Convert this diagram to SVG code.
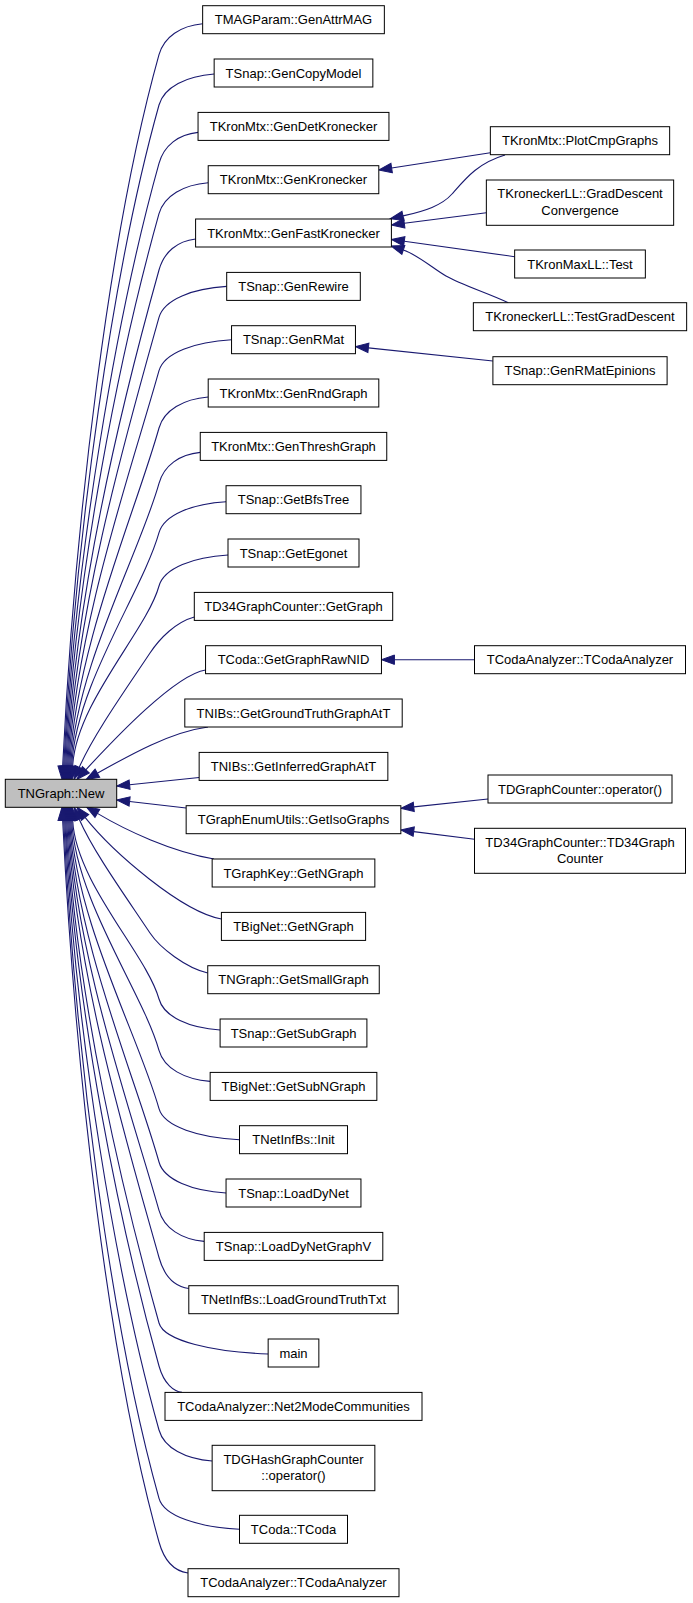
<svg xmlns="http://www.w3.org/2000/svg" width="693" height="1603" viewBox="0 0 693 1603">
<defs>
<marker id="ah" markerUnits="userSpaceOnUse" viewBox="0 0 13 9.4" markerWidth="13" markerHeight="9.4" refX="0" refY="4.7" orient="auto" overflow="visible">
<path d="M0,0 L13,4.7 L0,9.4 z" fill="#191970" stroke="#191970" stroke-width="1"/>
</marker>
<style>
.n rect{fill:#ffffff;stroke:#000000;stroke-width:1}
.n text{font-family:"Liberation Sans",Arial,Helvetica,sans-serif;font-size:13px;text-anchor:middle;fill:#000000}
#n_new rect{fill:#bfbfbf}
.e path{fill:none;stroke:#191970;stroke-width:1.1;marker-end:url(#ah)}
</style>
</defs>
<rect width="693" height="1603" fill="#ffffff"/>
<g id="edges" class="e">
<path d="M202.65,23.7 C180.8,25.7 164,36.7 159,54.7 C109.2,232.6 75.1,517.2 62.65,766.3"/>
<path d="M214.15,74 C186.6,76 164,87 159,105 C112.7,270.3 75.2,534.8 63.65,766.3"/>
<path d="M198.05,132.4 C178.5,134.4 164,145.4 159,163.4 C116.8,314.1 75.2,555.3 64.65,766.3"/>
<path d="M208.2,182.7 C183.6,184.7 164,195.7 159,213.7 C120.3,351.9 75.3,572.9 65.65,766.3"/>
<path d="M195.6,239 C177.3,241 164,252 159,270 C124.3,394.1 75.3,592.6 66.65,766.3"/>
<path d="M226.7,286.4 C192.85,288.4 164,299.4 159,317.4 C127.6,429.6 75.5,609.2 67.65,766.3"/>
<path d="M231.55,339.7 C195.3,341.7 164,352.7 159,370.7 C131.3,469.6 75.6,627.8 68.65,766.3"/>
<path d="M208.2,397 C183.6,399 164,410 159,428 C135.3,512.6 75.6,647.9 69.65,766.3"/>
<path d="M200.25,452.4 C179.6,454.4 164,465.4 159,483.4 C139.2,554.1 75.6,667.3 70.65,766.3"/>
<path d="M226.05,501.7 C192.5,503.7 164,514.7 159,532.7 C142.6,591.1 75.7,684.5 71.65,766.3"/>
<path d="M228,555 C193.5,557 164,568 159,586 C146.4,631.1 75.8,703.2 72.65,766.3"/>
<path d="M194.3,617 C176,622 160,638 150,653 C125,690.5 93.2,735.3 79.2,767.4"/>
<path d="M205.55,670 C175,675 116.4,736.9 85.8,769.8"/>
<path d="M208,727 C170,732 128,756 97.4,773.2"/>
<path d="M199.15,777.5 L129.6,784.7"/>
<path d="M186.15,808 L129.6,801.5"/>
<path d="M214,859 C172,852 126,830.5 97.4,813.4"/>
<path d="M221.4,919 C182,912 113,852.5 85.06,817.44"/>
<path d="M207.75,973 C186,968 160,948 150,933 C125,895.5 93.2,851.3 79.2,819.2"/>
<path d="M220.1,1030 C189.55,1028 164,1017 159,999 C146.5,954.3 75.8,882.8 72.65,820.3"/>
<path d="M210.15,1081.4 C184.6,1079.4 164,1068.4 159,1050.4 C142.9,992.9 75.7,900.8 71.65,820.3"/>
<path d="M239.5,1139.7 C199.25,1137.7 164,1126.7 159,1108.7 C138.8,1036.6 75.7,921.2 70.65,820.3"/>
<path d="M226.05,1193 C192.5,1191 164,1180 159,1162 C135.1,1076.6 75.6,939.9 69.65,820.3"/>
<path d="M204.2,1241.4 C181.6,1239.4 164,1228.4 159,1210.4 C131.7,1112.9 75.5,956.8 68.65,820.3"/>
<path d="M188.8,1288.5 C173.9,1286.5 164,1275.5 159,1257.5 C128.4,1148.2 75.3,973.3 67.65,820.3"/>
<path d="M268.15,1354 C213.6,1352 164,1341 159,1323 C123.8,1197.3 75.45,996.3 66.65,820.3"/>
<path d="M182,1392.4 C174,1391.5 164,1384 159,1366 C120.8,1229.6 75.2,1011.3 65.65,820.3"/>
<path d="M212.15,1461 C185.6,1459 164,1448 159,1430 C116.3,1277.6 75.3,1033.7 64.65,820.3"/>
<path d="M239.5,1529.3 C199.25,1527.3 164,1516.3 159,1498.3 C111.5,1328.8 75.5,1057.6 63.65,820.3"/>
<path d="M188,1573 C173.5,1571 164,1560 159,1542 C108.5,1361.6 75.3,1072.9 62.65,820.3"/>
<path d="M490.35,152.7 L391.64,168"/>
<path d="M505,155 C478,163 466,178 452,194 C442,205.4 425,211 403,215.9"/>
<path d="M486.35,212.7 L404.3,223.3"/>
<path d="M514.65,256.7 L404.28,241.3"/>
<path d="M508.3,302.7 C485,292 462,285 446,276 C435,270 418,254.9 403.35,250"/>
<path d="M492.9,361 L368.4,347.9"/>
<path d="M474.5,659.7 L394.45,659.7"/>
<path d="M488,799 L413.78,806.9"/>
<path d="M474.5,839.3 L413.75,831.6"/>
</g>
<g id="n_new" class="n"><rect x="5.3" y="779.3" width="111.4" height="28"/><text x="61" y="797.8">TNGraph::New</text></g>
<g id="n0" class="n"><rect x="202.65" y="5.7" width="181.7" height="28"/><text x="293.5" y="24.2">TMAGParam::GenAttrMAG</text></g>
<g id="n1" class="n"><rect x="214.15" y="59" width="158.7" height="28"/><text x="293.5" y="77.5">TSnap::GenCopyModel</text></g>
<g id="n2" class="n"><rect x="198.05" y="112.4" width="190.9" height="28"/><text x="293.5" y="130.9">TKronMtx::GenDetKronecker</text></g>
<g id="n3" class="n"><rect x="208.2" y="165.7" width="170.6" height="28"/><text x="293.5" y="184.2">TKronMtx::GenKronecker</text></g>
<g id="n4" class="n"><rect x="195.6" y="219" width="195.8" height="28"/><text x="293.5" y="237.5">TKronMtx::GenFastKronecker</text></g>
<g id="n5" class="n"><rect x="226.7" y="272.4" width="133.6" height="28"/><text x="293.5" y="290.9">TSnap::GenRewire</text></g>
<g id="n6" class="n"><rect x="231.55" y="325.7" width="123.9" height="28"/><text x="293.5" y="344.2">TSnap::GenRMat</text></g>
<g id="n7" class="n"><rect x="208.2" y="379" width="170.6" height="28"/><text x="293.5" y="397.5">TKronMtx::GenRndGraph</text></g>
<g id="n8" class="n"><rect x="200.25" y="432.4" width="186.5" height="28"/><text x="293.5" y="450.9">TKronMtx::GenThreshGraph</text></g>
<g id="n9" class="n"><rect x="226.05" y="485.7" width="134.9" height="28"/><text x="293.5" y="504.2">TSnap::GetBfsTree</text></g>
<g id="n10" class="n"><rect x="228" y="539" width="131" height="28"/><text x="293.5" y="557.5">TSnap::GetEgonet</text></g>
<g id="n11" class="n"><rect x="194.3" y="592.4" width="198.4" height="28"/><text x="293.5" y="610.9">TD34GraphCounter::GetGraph</text></g>
<g id="n12" class="n"><rect x="205.55" y="645.7" width="175.9" height="28"/><text x="293.5" y="664.2">TCoda::GetGraphRawNID</text></g>
<g id="n13" class="n"><rect x="184.8" y="699" width="217.4" height="28"/><text x="293.5" y="717.5">TNIBs::GetGroundTruthGraphAtT</text></g>
<g id="n14" class="n"><rect x="199.15" y="752.4" width="188.7" height="28"/><text x="293.5" y="770.9">TNIBs::GetInferredGraphAtT</text></g>
<g id="n15" class="n"><rect x="186.15" y="805.7" width="214.7" height="28"/><text x="293.5" y="824.2">TGraphEnumUtils::GetIsoGraphs</text></g>
<g id="n16" class="n"><rect x="212.15" y="859" width="162.7" height="28"/><text x="293.5" y="877.5">TGraphKey::GetNGraph</text></g>
<g id="n17" class="n"><rect x="221.4" y="912.4" width="144.2" height="28"/><text x="293.5" y="930.9">TBigNet::GetNGraph</text></g>
<g id="n18" class="n"><rect x="207.75" y="965.7" width="171.5" height="28"/><text x="293.5" y="984.2">TNGraph::GetSmallGraph</text></g>
<g id="n19" class="n"><rect x="220.1" y="1019" width="146.8" height="28"/><text x="293.5" y="1037.5">TSnap::GetSubGraph</text></g>
<g id="n20" class="n"><rect x="210.15" y="1072.4" width="166.7" height="28"/><text x="293.5" y="1090.9">TBigNet::GetSubNGraph</text></g>
<g id="n21" class="n"><rect x="239.5" y="1125.7" width="108" height="28"/><text x="293.5" y="1144.2">TNetInfBs::Init</text></g>
<g id="n22" class="n"><rect x="226.05" y="1179" width="134.9" height="28"/><text x="293.5" y="1197.5">TSnap::LoadDyNet</text></g>
<g id="n23" class="n"><rect x="204.2" y="1232.4" width="178.6" height="28"/><text x="293.5" y="1250.9">TSnap::LoadDyNetGraphV</text></g>
<g id="n24" class="n"><rect x="188.8" y="1285.7" width="209.4" height="28"/><text x="293.5" y="1304.2">TNetInfBs::LoadGroundTruthTxt</text></g>
<g id="n25" class="n"><rect x="268.15" y="1339" width="50.7" height="28"/><text x="293.5" y="1357.5">main</text></g>
<g id="n26" class="n"><rect x="165" y="1392.4" width="257" height="28"/><text x="293.5" y="1410.9">TCodaAnalyzer::Net2ModeCommunities</text></g>
<g id="n27" class="n"><rect x="212.15" y="1445.3" width="162.7" height="45.4"/><text x="293.5" y="1463.7">TDGHashGraphCounter</text><text x="293.5" y="1480.2">::operator()</text></g>
<g id="n28" class="n"><rect x="239.5" y="1515.3" width="108" height="28"/><text x="293.5" y="1533.8">TCoda::TCoda</text></g>
<g id="n29" class="n"><rect x="188" y="1568.7" width="211" height="28"/><text x="293.5" y="1587.2">TCodaAnalyzer::TCodaAnalyzer</text></g>
<g id="r0" class="n"><rect x="490.35" y="126.7" width="179.3" height="28"/><text x="580" y="145.2">TKronMtx::PlotCmpGraphs</text></g>
<g id="r1" class="n"><rect x="486.35" y="180" width="187.3" height="45.3"/><text x="580" y="198.3">TKroneckerLL::GradDescent</text><text x="580" y="214.8">Convergence</text></g>
<g id="r2" class="n"><rect x="514.65" y="250" width="130.7" height="28"/><text x="580" y="268.5">TKronMaxLL::Test</text></g>
<g id="r3" class="n"><rect x="473.35" y="302.7" width="213.3" height="28"/><text x="580" y="321.2">TKroneckerLL::TestGradDescent</text></g>
<g id="r4" class="n"><rect x="492.9" y="356.7" width="174.2" height="28"/><text x="580" y="375.2">TSnap::GenRMatEpinions</text></g>
<g id="r5" class="n"><rect x="474.5" y="645.7" width="211" height="28"/><text x="580" y="664.2">TCodaAnalyzer::TCodaAnalyzer</text></g>
<g id="r6" class="n"><rect x="488" y="775" width="184" height="28"/><text x="580" y="793.5">TDGraphCounter::operator()</text></g>
<g id="r7" class="n"><rect x="474.5" y="828.3" width="211" height="45"/><text x="580" y="846.5">TD34GraphCounter::TD34Graph</text><text x="580" y="863">Counter</text></g>
</svg>
